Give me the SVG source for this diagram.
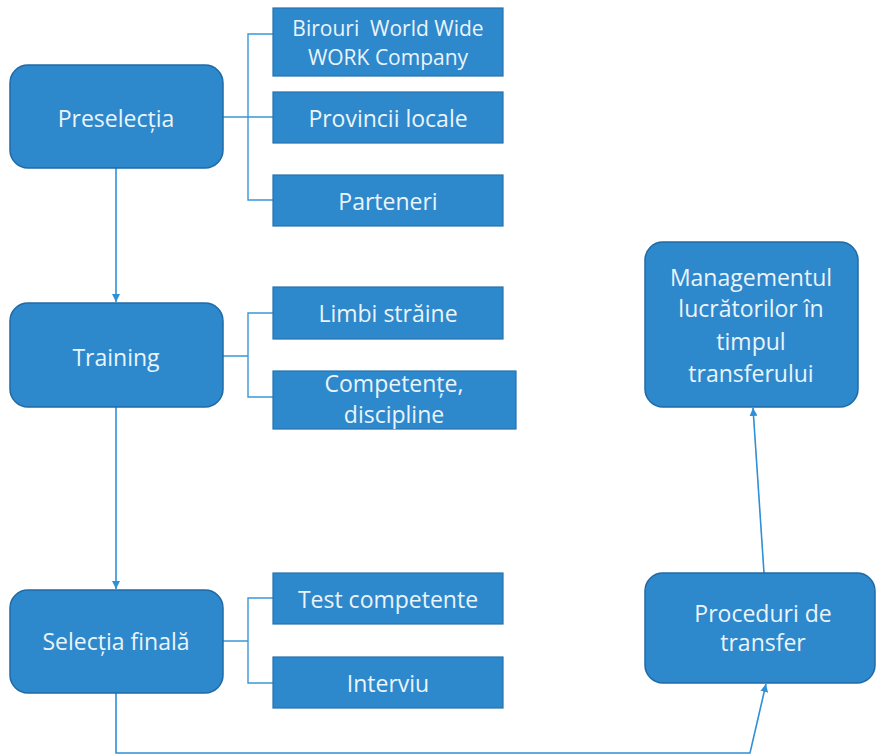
<svg xmlns="http://www.w3.org/2000/svg" width="876" height="756" viewBox="0 0 876 756">
<style>
.big{fill:#2e88cc;stroke:#1f6aa6;stroke-width:1.5}
.sm{fill:#2e88cc;stroke:#2572b0;stroke-width:1.2}
.t{font-family:"Open Sans","Liberation Sans",sans-serif;font-size:23px;fill:#eaf4fb;text-anchor:middle;white-space:pre}
.s{font-size:21px}
.c{fill:none;stroke:#2f90d8;stroke-width:1.6}
.b{fill:none;stroke:#3a96d8;stroke-width:1.4}
</style>
<defs>
<marker id="ah" viewBox="0 0 10 10" refX="10" refY="5" markerWidth="8" markerHeight="8" markerUnits="userSpaceOnUse" orient="auto">
<path d="M0,0 L10,5 L0,10 z" fill="#2f90d8"/>
</marker>
</defs>
<rect width="876" height="756" fill="#ffffff"/>
<g id="connectors">
<path class="c" d="M116,168 L116,302" marker-end="url(#ah)"/>
<path class="c" d="M116,407 L116,589" marker-end="url(#ah)"/>
<path class="c" d="M116,693 L116,753 L750,753 L766,684" marker-end="url(#ah)"/>
<path class="c" d="M764,573 L753,408" marker-end="url(#ah)"/>
<path class="b" d="M223,117 L273,117 M273,34 L248,34 L248,200 L273,200"/>
<path class="b" d="M223,356 L248,356 M273,313 L248,313 L248,397 L273,397"/>
<path class="b" d="M223,641 L248,641 M273,598 L248,598 L248,683 L273,683"/>
</g>
<g id="preselectia">
<rect class="big" x="10" y="65" width="213" height="103" rx="18"/>
<text class="t" x="116" y="127">Preselecția</text>
</g>
<g id="birouri">
<rect class="sm" x="273" y="8" width="230" height="68"/>
<text class="t s" x="388" y="36" xml:space="preserve">Birouri  World Wide</text>
<text class="t s" x="388" y="65">WORK Company</text>
</g>
<g id="provincii">
<rect class="sm" x="273" y="92" width="230" height="51"/>
<text class="t" x="388" y="127">Provincii locale</text>
</g>
<g id="parteneri">
<rect class="sm" x="273" y="175" width="230" height="51"/>
<text class="t" x="388" y="210">Parteneri</text>
</g>
<g id="training">
<rect class="big" x="10" y="303" width="213" height="104" rx="18"/>
<text class="t" x="116" y="366">Training</text>
</g>
<g id="limbi">
<rect class="sm" x="273" y="287" width="230" height="52"/>
<text class="t" x="388" y="322">Limbi străine</text>
</g>
<g id="competente">
<rect class="sm" x="273" y="371" width="243" height="58"/>
<text class="t" x="394" y="392">Competențe,</text>
<text class="t" x="394" y="423">discipline</text>
</g>
<g id="selectia">
<rect class="big" x="10" y="590" width="213" height="103" rx="18"/>
<text class="t" x="116" y="650">Selecția finală</text>
</g>
<g id="test">
<rect class="sm" x="273" y="573" width="230" height="51"/>
<text class="t" x="388" y="608">Test competente</text>
</g>
<g id="interviu">
<rect class="sm" x="273" y="657" width="230" height="51"/>
<text class="t" x="388" y="692">Interviu</text>
</g>
<g id="proceduri">
<rect class="big" x="645" y="573" width="230" height="110" rx="18"/>
<text class="t" x="763" y="622">Proceduri de</text>
<text class="t" x="763" y="651">transfer</text>
</g>
<g id="management">
<rect class="big" x="645" y="242" width="213" height="165" rx="18"/>
<text class="t" x="751" y="286">Managementul</text>
<text class="t" x="751" y="317">lucrătorilor în</text>
<text class="t" x="751" y="350">timpul</text>
<text class="t" x="751" y="382">transferului</text>
</g>
</svg>
